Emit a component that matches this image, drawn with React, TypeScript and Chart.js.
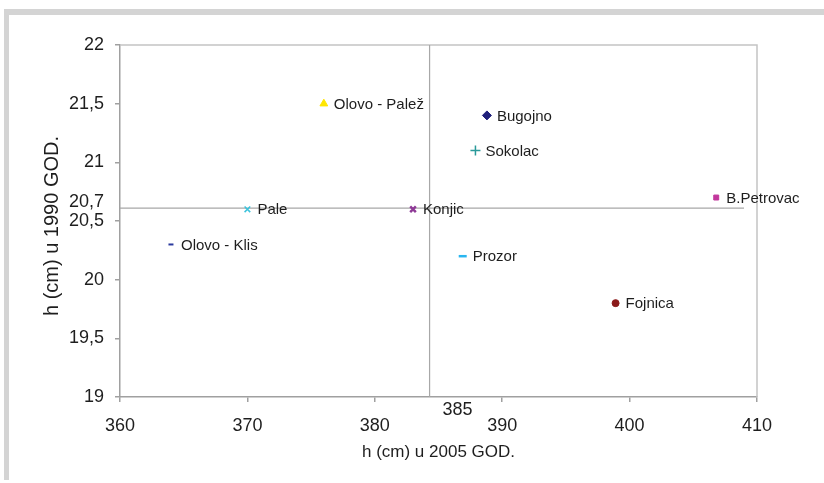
import React, { useEffect, useRef } from "react";
import { Chart, registerables } from "chart.js";

Chart.register(...registerables);

const names = ["Olovo - Klis", "Pale", "Olovo - Palež", "Konjic", "Bugojno", "Sokolac", "Prozor", "Fojnica", "B.Petrovac"];
const h2005 = [364, 370, 376, 383, 388.8, 387.9, 386.9, 398.9, 406.8];
const h1990 = [20.3, 20.6, 21.5, 20.6, 21.4, 21.1, 20.2, 19.8, 20.7];
const markerStyles = ["line", "crossRot", "triangle", "crossRot", "rectRot", "cross", "line", "circle", "rect"];
const markerColors = ["#2b3a9e", "#3cc3dc", "#ffe600", "#8e3a96", "#1f1f7a", "#2a9a9a", "#29b6f0", "#8b1a1a", "#c2379c"];
const markerRadius = [2.5, 4, 4.5, 4, 4.5, 5, 4, 3.5, 3.5];
const markerBorder = [2, 1.5, 1, 2.5, 1, 1.5, 2.5, 1, 1];

const xTicks = { min: 360, max: 410, step: 10 };
const yTicks = { min: 19, max: 22, step: 0.5 };
const meanX = 384.3;
const meanY = 20.61;
const meanXLabel = "385";
const meanYLabel = "20,7";

const xTitle = "h (cm) u 2005 GOD.";
const yTitle = "h (cm) u 1990 GOD.";

const FONT = "'Liberation Sans', Arial, sans-serif";

export default function App() {
  const ref = useRef<HTMLCanvasElement | null>(null);

  useEffect(() => {
    const canvas = ref.current;
    if (!canvas) return;

    const decor = {
      id: "decor",
      beforeDatasetsDraw(chart: any) {
        const { ctx, chartArea } = chart;
        const xs = chart.scales.x;
        const ys = chart.scales.y;
        ctx.save();
        // plot frame top & right
        ctx.strokeStyle = "#c4c4c4";
        ctx.lineWidth = 1.5;
        ctx.beginPath();
        ctx.moveTo(chartArea.left, chartArea.top);
        ctx.lineTo(chartArea.right, chartArea.top);
        ctx.lineTo(chartArea.right, chartArea.bottom);
        ctx.stroke();
        // mean lines
        const px = xs.getPixelForValue(meanX);
        const py = ys.getPixelForValue(meanY);
        ctx.strokeStyle = "#a8a8a8";
        ctx.lineWidth = 1.2;
        ctx.beginPath();
        ctx.moveTo(px, chartArea.top);
        ctx.lineTo(px, chartArea.bottom);
        ctx.moveTo(chartArea.left, py);
        ctx.lineTo(chartArea.right - 13, py);
        ctx.stroke();
        // mean labels
        ctx.fillStyle = "#1e1e1e";
        ctx.font = `18px ${FONT}`;
        ctx.textAlign = "center";
        ctx.textBaseline = "middle";
        ctx.fillText(meanXLabel, px + 28, chartArea.bottom + 13);
        ctx.textAlign = "right";
        ctx.fillText(meanYLabel, chartArea.left - 16, py - 6);
        // y title
        ctx.save();
        ctx.translate(52, (chartArea.top + chartArea.bottom) / 2 + 5);
        ctx.rotate(-Math.PI / 2);
        ctx.textAlign = "center";
        ctx.textBaseline = "middle";
        ctx.font = `20px ${FONT}`;
        ctx.fillText(yTitle, 0, 0);
        ctx.restore();
        ctx.restore();
      },
      afterDatasetsDraw(chart: any) {
        const { ctx } = chart;
        const meta = chart.getDatasetMeta(0);
        ctx.save();
        ctx.fillStyle = "#1e1e1e";
        ctx.font = `15px ${FONT}`;
        ctx.textAlign = "left";
        ctx.textBaseline = "middle";
        meta.data.forEach((el: any, i: number) => {
          ctx.fillText(names[i], el.x + 10, el.y + 1);
        });
        ctx.restore();
      },
    };

    const chart = new Chart(canvas, {
      type: "scatter",
      data: {
        datasets: [
          {
            data: h2005.map((x, i) => ({ x, y: h1990[i] })),
            pointStyle: markerStyles as any,
            pointRadius: markerRadius,
            pointBorderWidth: markerBorder,
            pointBackgroundColor: markerColors,
            pointBorderColor: markerColors,
          },
        ],
      },
      options: {
        responsive: false,
        animation: false,
        events: [],
        layout: { padding: { top: 45, right: 67, left: 0, bottom: 0 } },
        plugins: { legend: { display: false }, tooltip: { enabled: false } },
        scales: {
          x: {
            type: "linear",
            min: xTicks.min,
            max: xTicks.max,
            ticks: {
              stepSize: xTicks.step,
              color: "#1e1e1e",
              font: { family: FONT, size: 18 },
              padding: 13,
            },
            grid: { drawOnChartArea: false, drawTicks: true, tickLength: 5, color: "#a0a0a0", lineWidth: 1.5 },
            border: { color: "#a0a0a0", width: 1.5 },
            title: {
              display: true,
              text: xTitle,
              color: "#1e1e1e",
              font: { family: FONT, size: 17 },
              padding: { top: 0, bottom: 20 },
            },
            afterFit(scale: any) {
              scale.height = 86;
            },
          },
          y: {
            type: "linear",
            min: yTicks.min,
            max: yTicks.max,
            ticks: {
              stepSize: yTicks.step,
              color: "#1e1e1e",
              font: { family: FONT, size: 18 },
              padding: 11,
              callback: (v: any) => String(v).replace(".", ","),
            },
            grid: { drawOnChartArea: false, drawTicks: true, tickLength: 5, color: "#a0a0a0", lineWidth: 1.5 },
            border: { color: "#a0a0a0", width: 1.5 },
            title: { display: false },
            afterFit(scale: any) {
              scale.width = 120;
            },
          },
        },
      },
      plugins: [decor],
    });

    return () => chart.destroy();
  }, []);

  return (
    <div style={{ position: "fixed", left: 0, top: 0, width: 824, height: 483, background: "#fff", overflow: "hidden" }}>
      <div style={{ position: "absolute", left: 4, top: 9, width: 820, height: 6, background: "#d4d4d4" }} />
      <div style={{ position: "absolute", left: 4, top: 9, width: 5, height: 471, background: "#d4d4d4" }} />
      <canvas ref={ref} width={824} height={483} style={{ position: "absolute", left: 0, top: 0, display: "block" }} />
    </div>
  );
}
